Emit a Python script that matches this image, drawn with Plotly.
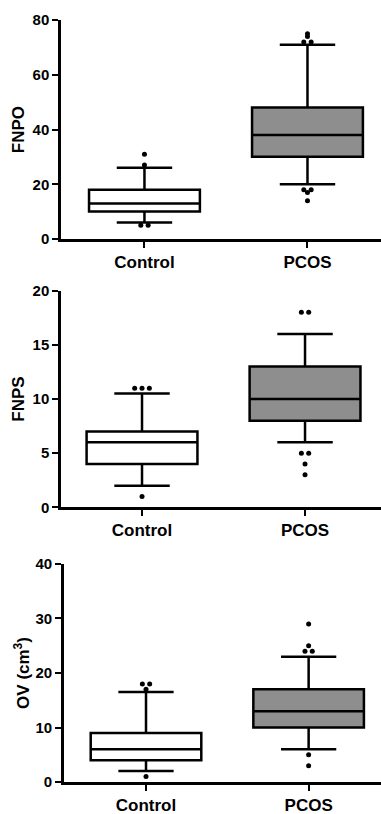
import plotly.graph_objects as go

groups = ["Control", "PCOS"]

# Panel 1: FNPO
fnpo_q1 = [10, 30]
fnpo_median = [13, 38]
fnpo_q3 = [18, 48]
fnpo_low = [6, 20]
fnpo_high = [26, 71]
fnpo_outliers = [[31, 27, 5, 5], [75, 74, 72, 72, 18, 17, 18, 14]]

# Panel 2: FNPS
fnps_q1 = [4, 8]
fnps_median = [6, 10]
fnps_q3 = [7, 13]
fnps_low = [2, 6]
fnps_high = [10.5, 16]
fnps_outliers = [[11, 11, 11, 1], [18, 18, 5, 5, 4, 3]]

# Panel 3: OV
ov_q1 = [4, 10]
ov_median = [6, 13]
ov_q3 = [9, 17]
ov_low = [2, 6]
ov_high = [16.5, 23]
ov_outliers = [[18, 18, 17, 1], [29, 25, 24, 24, 5, 3]]

y_titles = ["FNPO", "FNPS", "OV (cm<sup>3</sup>)"]
y_ranges = [[0, 80], [0, 20], [0, 40]]
y_ticks = [[0, 20, 40, 60, 80], [0, 5, 10, 15, 20], [0, 10, 20, 30, 40]]

fills = ["white", "#8e8e8e"]
FONT = "Liberation Sans, Arial, sans-serif"

panels = [
    (fnpo_q1, fnpo_median, fnpo_q3, fnpo_low, fnpo_high, fnpo_outliers),
    (fnps_q1, fnps_median, fnps_q3, fnps_low, fnps_high, fnps_outliers),
    (ov_q1, ov_median, ov_q3, ov_low, ov_high, ov_outliers),
]


def spread(values, center, step=0.045):
    """Place points sharing the same value side by side around the center."""
    xs = []
    counts = {}
    for v in values:
        counts[v] = counts.get(v, 0) + 1
    seen = {}
    for v in values:
        n = counts[v]
        i = seen.get(v, 0)
        seen[v] = i + 1
        xs.append(center + (i - (n - 1) / 2) * step)
    return xs


fig = go.Figure()
for p, (q1, med, q3, lo, hi, outs) in enumerate(panels):
    xa = "x" if p == 0 else f"x{p+1}"
    ya = "y" if p == 0 else f"y{p+1}"
    for g in range(2):
        fig.add_trace(go.Box(
            x=[g], q1=[q1[g]], median=[med[g]], q3=[q3[g]],
            lowerfence=[lo[g]], upperfence=[hi[g]],
            width=0.68, whiskerwidth=0.5,
            fillcolor=fills[g], line=dict(color="black", width=2.5),
            boxpoints=False, xaxis=xa, yaxis=ya, showlegend=False,
        ))
        fig.add_trace(go.Scatter(
            x=spread(outs[g], g), y=outs[g], mode="markers",
            marker=dict(color="black", size=5),
            xaxis=xa, yaxis=ya, showlegend=False, cliponaxis=False,
        ))

y_domains = [[0.7126, 1.0], [0.3605, 0.6448], [0.0, 0.2861]]
x_domains = [[0.0, 1.0], [0.0, 1.0], [0.009, 1.0]]
x_ranges = [[-0.512, 1.451], [-0.497, 1.466], [-0.505, 1.445]]
title_standoffs = [4, 4, 2]

layout = dict(
    width=381, height=814,
    margin=dict(l=61, r=0, t=20, b=32),
    paper_bgcolor="white", plot_bgcolor="white",
    showlegend=False,
)
for p in range(3):
    xk = "xaxis" if p == 0 else f"xaxis{p+1}"
    yk = "yaxis" if p == 0 else f"yaxis{p+1}"
    ya = "y" if p == 0 else f"y{p+1}"
    xa = "x" if p == 0 else f"x{p+1}"
    layout[xk] = dict(
        domain=x_domains[p], anchor=ya, range=x_ranges[p],
        tickmode="array", tickvals=[0, 1], ticktext=groups,
        ticks="outside", ticklen=6, tickwidth=2, tickcolor="black",
        showline=True, linewidth=2.5, linecolor="black",
        showgrid=False, zeroline=False,
        tickfont=dict(family=FONT, size=17, color="black", weight="bold"),
    )
    layout[yk] = dict(
        domain=y_domains[p], anchor=xa, range=y_ranges[p],
        tickmode="array", tickvals=y_ticks[p],
        ticks="outside", ticklen=6, tickwidth=2, tickcolor="black",
        showline=True, linewidth=2.5, linecolor="black",
        showgrid=False, zeroline=False,
        tickfont=dict(family=FONT, size=15, color="black", weight="bold"),
        title=dict(text=y_titles[p], standoff=title_standoffs[p],
                   font=dict(family=FONT, size=17, color="black", weight="bold")),
    )

fig.update_layout(**layout)
fig.write_html(
    "out.html",
    config={"displayModeBar": False},
    post_script="document.body.style.margin='0';document.body.style.overflow='hidden';",
)
